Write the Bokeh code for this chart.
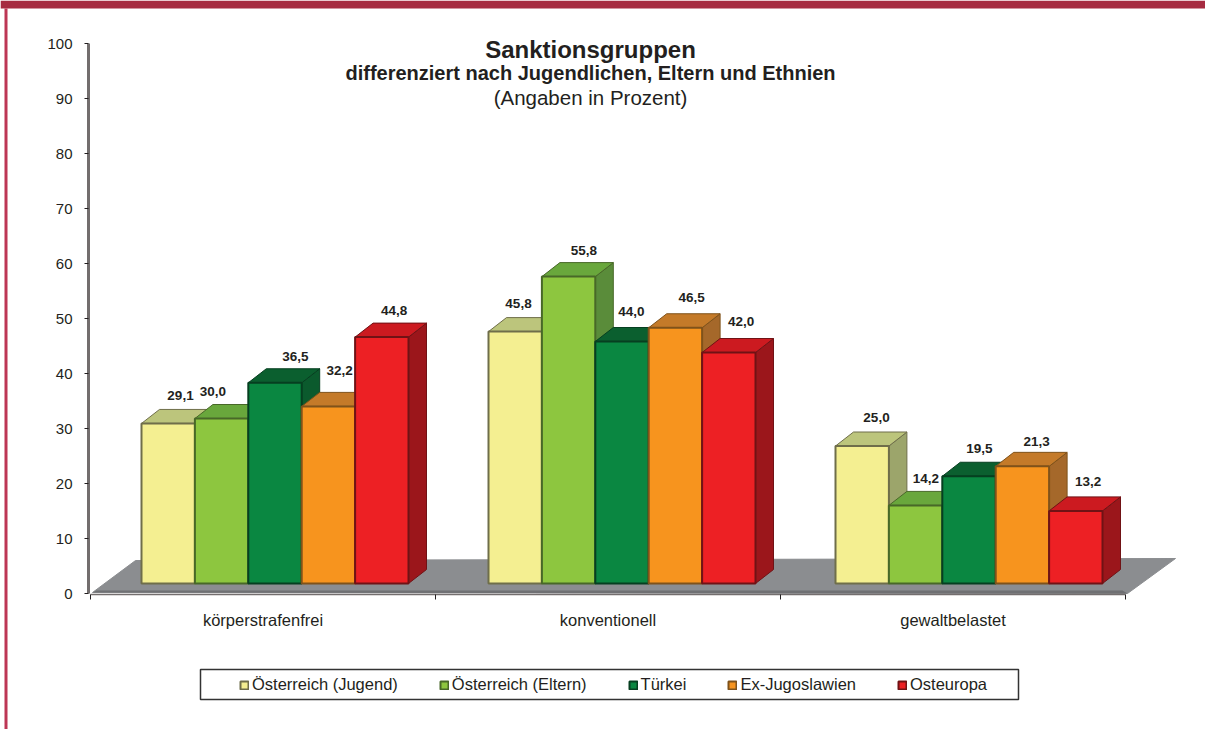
from bokeh.plotting import figure
from bokeh.models import Range1d, LinearAxis, FixedTicker, Legend, LegendItem, Label, BoxAnnotation
from bokeh.embed import file_html
from bokeh.resources import INLINE
from bokeh.core.properties import value

# ---- data ----
categories = ["körperstrafenfrei", "konventionell", "gewaltbelastet"]
y_ticks = [0, 10, 20, 30, 40, 50, 60, 70, 80, 90, 100]
jugend = [29.1, 45.8, 25.0]
eltern = [30.0, 55.8, 14.2]
tuerkei = [36.5, 44.0, 19.5]
exjugo = [32.2, 46.5, 21.3]
osteuropa = [44.8, 42.0, 13.2]
series_names = ["Österreich (Jugend)", "Österreich (Eltern)", "Türkei", "Ex-Jugoslawien", "Osteuropa"]
series_values = [jugend, eltern, tuerkei, exjugo, osteuropa]

# ---- styles / layout ----
front = ["#f4ef91", "#8dc63f", "#0a8741", "#f7941e", "#ed2024"]
top = ["#bcc57c", "#69a73c", "#0b5f2f", "#c47a29", "#cc1a20"]
side = ["#9ca56b", "#5a8c3a", "#0b5a2d", "#a5682a", "#9b161b"]
edge = ["#6f6e4a", "#486828", "#063f20", "#7f521a", "#701215"]
label_dx = [[39, 30, 41], [18, 42, 37], [47, 36, 37], [38, 43, 41], [39, 39, 39]]
label_dy = [[28, 28, 29], [27, 26, 27], [26, 30, 28], [36, 30, 25], [27, 31, 29]]

W, H = 1205, 729
PX_X = 345.0            # pixels per category
PX_Y = 5.5              # pixels per percent
AX_L, AX_B = 90, 593    # pixel position of the axes' origin
p = figure(width=W, height=H, output_backend="svg", toolbar_location=None,
           x_range=Range1d(-AX_L / PX_X, (W - AX_L) / PX_X),
           y_range=Range1d(-(H - AX_B) / PX_Y, AX_B / PX_Y),
           x_axis_location=None, y_axis_location=None,
           min_border=0, min_border_left=0, min_border_right=0, min_border_top=0, min_border_bottom=0,
           margin=0, outline_line_color=None, background_fill_color="white")
p.grid.visible = False

# page frame
p.add_layout(BoxAnnotation(left=0, right=W, top=H, bottom=H - 8, left_units="screen", right_units="screen",
                           top_units="screen", bottom_units="screen", fill_color="#a62b41", fill_alpha=1,
                           line_color=None, level="underlay"))
p.add_layout(BoxAnnotation(left=4, right=7, top=H - 8, bottom=0, left_units="screen", right_units="screen",
                           top_units="screen", bottom_units="screen", fill_color="#bd3655", fill_alpha=1,
                           line_color=None, level="underlay"))

# floor
ux, uy = 1 / PX_X, 1 / PX_Y
p.patch([2 * ux, 45 * ux, 1085 * ux, 1037 * ux], [1 * uy, 33 * uy, 35 * uy, 0 * uy],
        fill_color="#8b8d90", line_color="#8b8d90")
p.patch([2 * ux, 6 * ux, 1032 * ux, 1037 * ux], [1 * uy, 3 * uy, 3 * uy, 0 * uy],
        fill_color="#6f7073", line_color=None)

# 3D bars
BAR = 53.4 * ux
STEP = 347 * ux
START = 51 * ux
DX, DY = 18 * ux, 14 * uy
BASE = 10 * uy
legend_items = []
for s, (name, vals) in enumerate(zip(series_names, series_values)):
    lefts = [START + STEP * g + BAR * s for g in range(len(vals))]
    rights = [l + BAR for l in lefts]
    tops = [BASE + v for v in vals]
    side_xs = [[r, r + DX, r + DX, r] for r in rights]
    side_ys = [[BASE, BASE + DY, t + DY, t] for t in tops]
    p.patches(side_xs, side_ys, fill_color=side[s], line_color=edge[s], line_width=1)
    top_xs = [[l, l + DX, r + DX, r] for l, r in zip(lefts, rights)]
    top_ys = [[t, t + DY, t + DY, t] for t in tops]
    p.patches(top_xs, top_ys, fill_color=top[s], line_color=edge[s], line_width=1)
    r = p.quad(left=lefts, right=rights, bottom=[BASE] * len(vals), top=tops,
               fill_color=front[s], line_color=edge[s], line_width=2)
    legend_items.append(LegendItem(label=name, renderers=[r]))

# value labels (drawn last so no bar covers them)
for s, vals in enumerate(series_values):
    lefts = [START + STEP * g + BAR * s for g in range(len(vals))]
    tops = [BASE + v for v in vals]
    p.text(lefts, tops, text=[f"{v:.1f}".replace(".", ",") for v in vals],
           x_offset=label_dx[s], y_offset=[-d for d in label_dy[s]],
           text_font=value("Liberation Sans"), text_font_style="bold", text_font_size="13.5px",
           text_color="#231f20", text_align="center", text_baseline="middle")

# axes
yaxis = LinearAxis(ticker=FixedTicker(ticks=y_ticks), fixed_location=-2 * ux, bounds=(0, 100),
                   axis_line_color="#736e6e", axis_line_width=3,
                   major_tick_line_color="#231f20", major_tick_in=0, major_tick_out=4,
                   minor_tick_line_color=None, major_label_standoff=12,
                   major_label_text_font="Liberation Sans", major_label_text_font_size="15px",
                   major_label_text_color="#231f20")
p.add_layout(yaxis, "left")
xaxis = LinearAxis(ticker=FixedTicker(ticks=[0.5, 1.5, 2.5], minor_ticks=[0, 1, 2, 3]),
                   fixed_location=-1 * uy, bounds=(0, 3),
                   axis_line_color="#736e6e", axis_line_width=1.5,
                   major_tick_line_color=None, major_tick_in=0, major_tick_out=0,
                   minor_tick_line_color="#231f20", minor_tick_in=0, minor_tick_out=5,
                   major_label_overrides={i + 0.5: c for i, c in enumerate(categories)},
                   major_label_standoff=11,
                   major_label_text_font="Liberation Sans", major_label_text_font_size="16.5px",
                   major_label_text_color="#231f20")
p.add_layout(xaxis, "below")

# titles
for txt, y, size, style in [("Sanktionsgruppen", 48.5, "24px", "bold"),
                            ("differenziert nach Jugendlichen, Eltern und Ethnien", 72.5, "20px", "bold"),
                            ("(Angaben in Prozent)", 97, "20.5px", "normal")]:
    p.add_layout(Label(x=590, y=H - y, x_units="screen", y_units="screen", text=txt,
                       text_font="Liberation Sans", text_font_size=size, text_font_style=style,
                       text_color="#231f20", text_align="center", text_baseline="middle"))

# legend frame + legend
for lw_box in [(200, 1018, 669, 699)]:
    p.quad(left=[(lw_box[0] - AX_L) * ux], right=[(lw_box[1] - AX_L) * ux],
           top=[(AX_B - lw_box[2]) * uy], bottom=[(AX_B - lw_box[3]) * uy],
           fill_color="white", line_color="#333333", line_width=1.5)
legend = Legend(items=legend_items, orientation="horizontal", location=(239, H - 694),
                glyph_width=10, glyph_height=10, label_standoff=3, spacing=41,
                padding=6, margin=0, border_line_color=None,
                background_fill_alpha=0, label_text_font="Liberation Sans", label_text_font_size="16.5px",
                label_text_color="#231f20")
p.add_layout(legend, "center")

open("out.html", "w").write(file_html(p, INLINE))
